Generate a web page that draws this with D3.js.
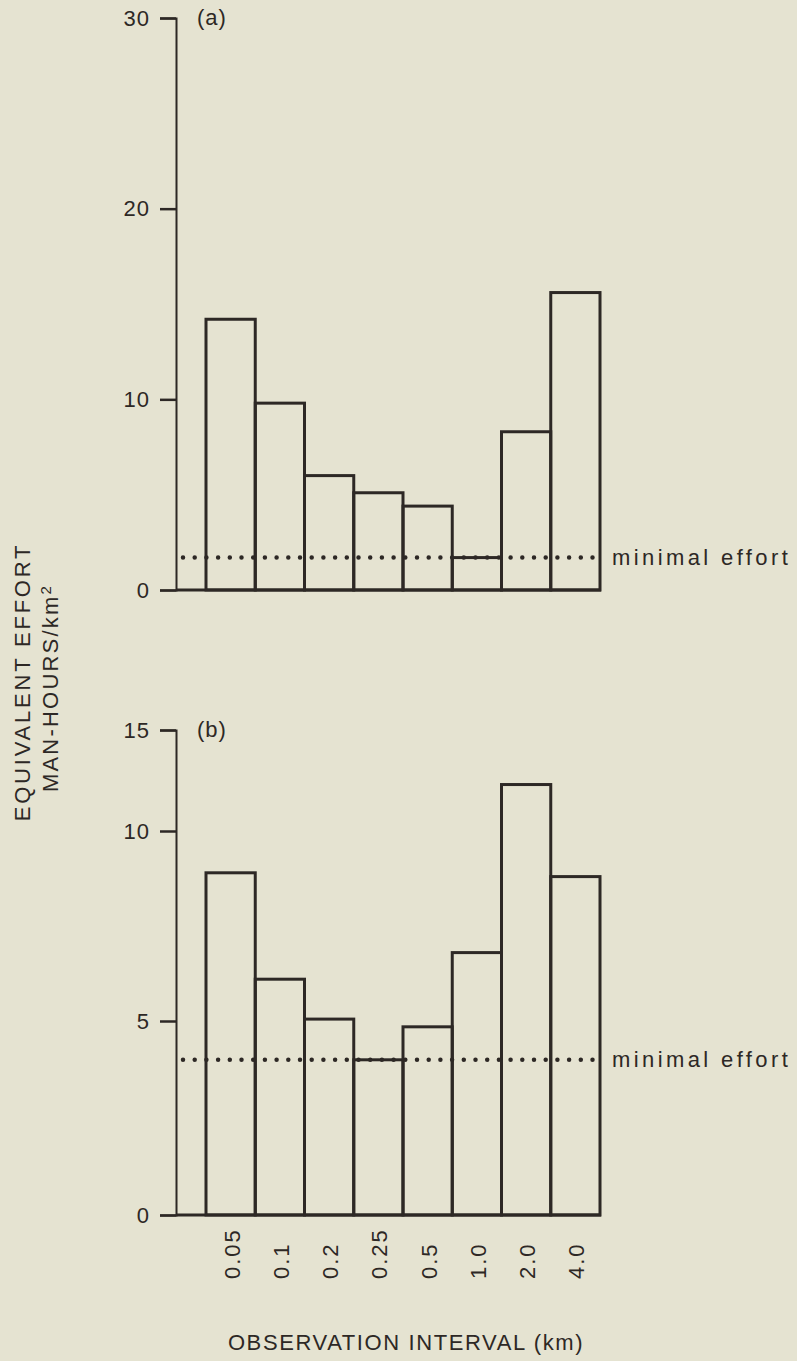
<!DOCTYPE html>
<meta charset="utf-8">
<script src="https://d3js.org/d3.v7.min.js"></script>
<style>
  body { margin: 0; background: #e5e3d1; }
  text { font-family: "Liberation Sans", Arial, sans-serif; fill: #2d2825; }
</style>
<div id="chart"></div>
<script>

// data
var intervals = ["0.05", "0.1", "0.2", "0.25", "0.5", "1.0", "2.0", "4.0"];
var effortA = [14.2, 9.8, 6.0, 5.1, 4.4, 1.7, 8.3, 15.6];
var effortB = [8.9, 6.1, 5.05, 4.0, 4.85, 6.8, 12.3, 8.8];
var minimalA = 1.7;
var minimalB = 4.0;
var ticksA = [0, 10, 20, 30];
var ticksB = [0, 5, 10, 15];

var ink = "#2d2825";
var W = 797, H = 1361;

var svg = d3.select("#chart").append("svg")
    .attr("width", W)
    .attr("height", H);

svg.append("rect").attr("width", W).attr("height", H).attr("fill", "#e5e3d1");

var x = d3.scaleBand()
    .domain(intervals)
    .range([206, 600])
    .padding(0);

var axisX = 176;

// panel a : 0-30, panel b : 0-15 (the printed b axis is not evenly spaced)
var yA = d3.scaleLinear().domain([0, 30]).range([590, 18]);
var yB = d3.scaleLinear().domain([0, 5, 10, 15]).range([1215, 1021, 831, 730]);

function panel(y, values, minimal, ticks, tag) {
  var g = svg.append("g");

  var ax = g.append("g")
      .attr("transform", "translate(" + axisX + ",0)")
      .call(d3.axisLeft(y).tickValues(ticks).tickSize(16).tickPadding(10).tickFormat(d3.format("d")));
  ax.select(".domain").attr("stroke", ink).attr("stroke-width", 2);
  ax.selectAll(".tick line").attr("stroke", ink).attr("stroke-width", 2.5);
  ax.selectAll(".tick text")
      .attr("fill", ink)
      .style("font-size", "22px")
      .style("letter-spacing", "1px");

  // baseline
  g.append("line")
      .attr("x1", axisX).attr("x2", x.range()[1] + 1)
      .attr("y1", y(0)).attr("y2", y(0))
      .attr("stroke", ink).attr("stroke-width", 3);

  g.selectAll("rect.bar")
    .data(values)
    .enter().append("rect")
      .attr("class", "bar")
      .attr("x", function(d, i) { return x(intervals[i]); })
      .attr("y", function(d) { return y(d); })
      .attr("width", x.bandwidth())
      .attr("height", function(d) { return y(0) - y(d); })
      .attr("fill", "none")
      .attr("stroke", ink)
      .attr("stroke-width", 3);

  // minimal effort dotted line
  g.append("line")
      .attr("x1", 183).attr("x2", 602)
      .attr("y1", y(minimal)).attr("y2", y(minimal))
      .attr("stroke", ink)
      .attr("stroke-width", 4.5)
      .attr("stroke-linecap", "round")
      .attr("stroke-dasharray", "0 11.7");

  g.append("text")
      .attr("x", 612)
      .attr("y", y(minimal) + 7)
      .style("font-size", "22px")
      .style("letter-spacing", "3.4px")
      .text("minimal effort");

  g.append("text")
      .attr("x", 197)
      .attr("y", y.range()[y.range().length - 1] + 7)
      .style("font-size", "22px")
      .style("letter-spacing", "1px")
      .text(tag);
}

panel(yA, effortA, minimalA, ticksA, "(a)");
panel(yB, effortB, minimalB, ticksB, "(b)");

// x tick labels, rotated
svg.selectAll("text.xlab")
  .data(intervals)
  .enter().append("text")
    .attr("class", "xlab")
    .attr("transform", function(d) {
      return "translate(" + (x(d) + x.bandwidth() / 2 + 1) + ",1279) rotate(-90)";
    })
    .attr("dy", "0.36em")
    .style("font-size", "22px")
    .style("letter-spacing", "2px")
    .text(function(d) { return d; });

svg.append("text")
    .attr("x", 406)
    .attr("y", 1350)
    .attr("text-anchor", "middle")
    .style("font-size", "22px")
    .style("letter-spacing", "1.6px")
    .text("OBSERVATION INTERVAL (km)");

var yt = svg.append("text")
    .attr("transform", "translate(30,682) rotate(-90)")
    .attr("text-anchor", "middle")
    .style("font-size", "22px")
    .style("letter-spacing", "2.8px")
    .text("EQUIVALENT EFFORT");

var yt2 = svg.append("text")
    .attr("transform", "translate(58,688) rotate(-90)")
    .attr("text-anchor", "middle")
    .style("font-size", "22px")
    .style("letter-spacing", "2.2px");
yt2.append("tspan").text("MAN-HOURS/km");
yt2.append("tspan").attr("dy", "-0.45em").style("font-size", "15px").text("2");

</script>
